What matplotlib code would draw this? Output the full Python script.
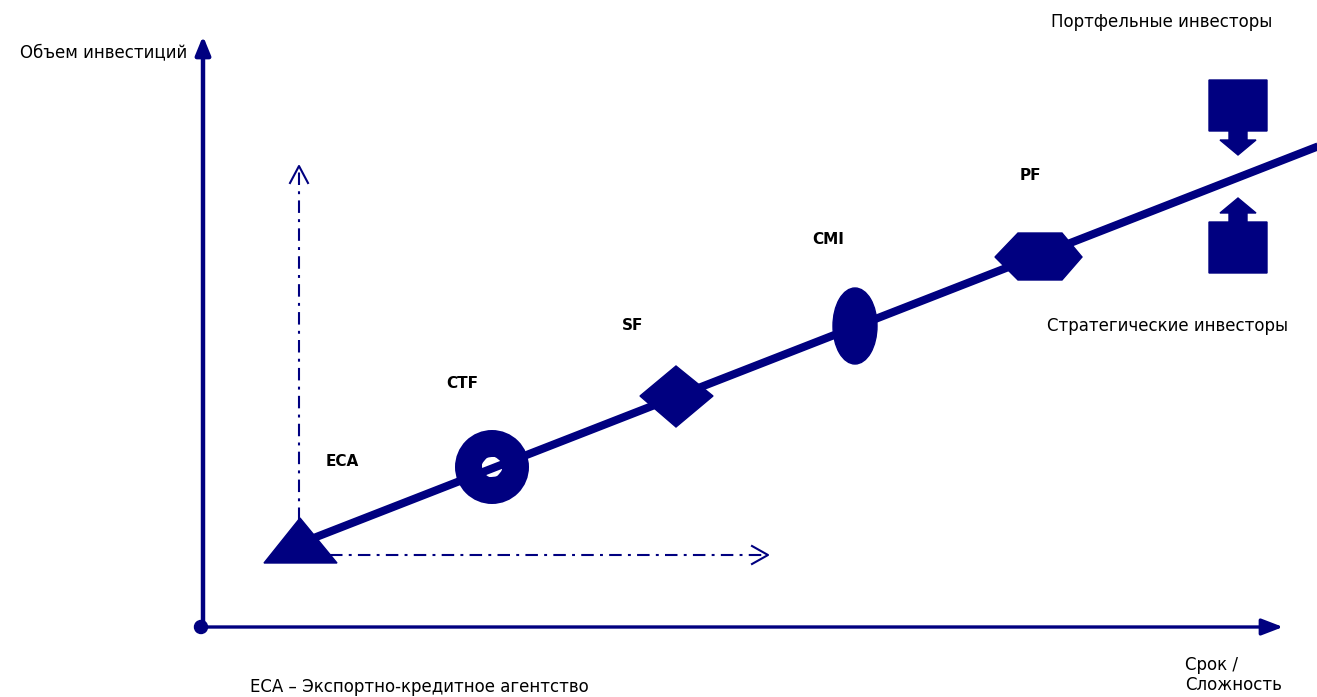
import numpy as np
import matplotlib.pyplot as plt
from matplotlib.patches import Polygon, Ellipse, Circle
from matplotlib.path import Path
from matplotlib.patches import PathPatch

# этапы финансирования (положение на схеме, px)
stages = ['ECA', 'CTF', 'SF', 'CMI', 'PF']
stage_x = [300, 492, 676, 855, 1038]
stage_y = [545, 467, 396, 326, 257]
label_x = [342, 462, 633, 828, 1030]
label_y = [461, 384, 325, 240, 176]

axis_labels = ['Объем инвестиций', 'Срок /\nСложность']
investor_labels = ['Портфельные инвесторы', 'Стратегические инвесторы']
note = 'ECA – Экспортно-кредитное агентство'

NAVY = '#000080'

plt.rcParams['font.family'] = ['DejaVu Sans']
fig = plt.figure(figsize=(13.17, 6.97), dpi=100)
ax = fig.add_axes([0, 0, 1, 1])
ax.set_xlim(0, 1317)
ax.set_ylim(697, 0)
ax.axis('off')

# оси
ax.annotate('', xy=(203, 36), xytext=(203, 629),
            arrowprops=dict(arrowstyle='-|>,head_length=1.1,head_width=0.45',
                            lw=3.2, color=NAVY, shrinkA=0, shrinkB=0))
ax.annotate('', xy=(1283, 627), xytext=(201, 627),
            arrowprops=dict(arrowstyle='-|>,head_length=1.3,head_width=0.5',
                            lw=2.4, color=NAVY, shrinkA=0, shrinkB=0))
ax.add_patch(Circle((201, 627), 6.5, color=NAVY, zorder=5))

# пунктирные направляющие
dd = (0, (6, 3, 1.4, 3))
ax.plot([299, 299], [520, 167], color=NAVY, lw=1.5, ls=dd)
ax.plot([290, 299, 308], [183, 166, 183], color=NAVY, lw=1.5)
ax.plot([330, 766], [555, 555], color=NAVY, lw=1.5, ls=dd)
ax.plot([752, 768, 752], [546, 555, 564], color=NAVY, lw=1.5)

# основная линия
k = np.polyfit(stage_x, stage_y, 1)
xs = np.array([stage_x[0], 1330])
ax.plot(xs, np.polyval(k, xs), color=NAVY, lw=5.8, solid_capstyle='butt', zorder=2)

# маркеры
x0, y0 = stage_x[0], stage_y[0]
ax.add_patch(Polygon([[x0 - 36, y0 + 18], [x0 + 37, y0 + 18], [x0, y0 - 27]],
                     color=NAVY, zorder=3))
x1, y1 = stage_x[1], stage_y[1]
ring = Path.make_compound_path(
    Path.circle((x1, y1), 37),
    Path(Path.circle((x1, y1), 10).vertices[::-1], Path.circle((x1, y1), 10).codes))
ax.add_patch(PathPatch(ring, color=NAVY, lw=0, zorder=3))
x2, y2 = stage_x[2], stage_y[2]
ax.add_patch(Polygon([[x2 - 36, y2], [x2, y2 - 30], [x2 + 37, y2], [x2, y2 + 31]],
                     color=NAVY, zorder=3))
x3, y3 = stage_x[3], stage_y[3]
ax.add_patch(Ellipse((x3, y3), 44, 76, color=NAVY, zorder=3))
x4, y4 = stage_x[4], stage_y[4]
ax.add_patch(Polygon([[x4 - 43, y4], [x4 - 20, y4 - 24], [x4 + 24, y4 - 24],
                      [x4 + 44, y4], [x4 + 24, y4 + 23], [x4 - 20, y4 + 23]],
                     color=NAVY, zorder=3))

for name, lx, ly in zip(stages, label_x, label_y):
    ax.text(lx, ly, name, fontsize=11, fontweight='bold', ha='center', va='center')

# инвесторы
cx = 1238
ax.add_patch(Polygon([[cx - 29, 80], [cx + 29, 80], [cx + 29, 131], [cx + 9, 131],
                      [cx + 9, 140], [cx + 18, 140], [cx, 155], [cx - 18, 140],
                      [cx - 9, 140], [cx - 9, 131], [cx - 29, 131]], color=NAVY, zorder=3))
ax.add_patch(Polygon([[cx - 29, 273], [cx + 29, 273], [cx + 29, 222], [cx + 9, 222],
                      [cx + 9, 213], [cx + 18, 213], [cx, 198], [cx - 18, 213],
                      [cx - 9, 213], [cx - 9, 222], [cx - 29, 222]], color=NAVY, zorder=3))

fs = 12
ax.text(187, 52, axis_labels[0], fontsize=fs, ha='right', va='center')
ax.text(1185, 675, axis_labels[1], fontsize=fs, ha='left', va='center', linespacing=1.2)
ax.text(1162, 22, investor_labels[0], fontsize=fs, ha='center', va='center')
ax.text(1168, 326, investor_labels[1], fontsize=fs, ha='center', va='center')
ax.text(250, 687, note, fontsize=fs, ha='left', va='center')

fig.savefig('out.png', dpi=100)
